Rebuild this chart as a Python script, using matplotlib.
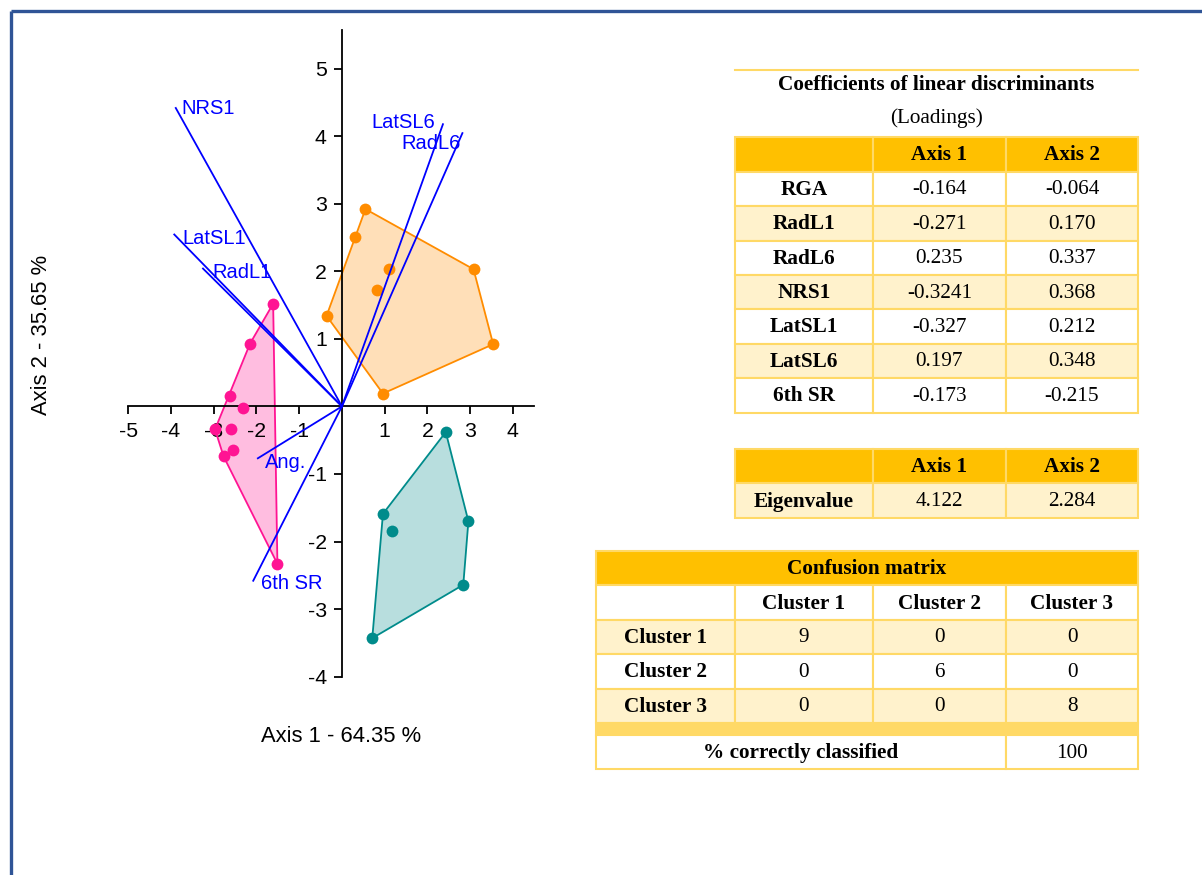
import numpy as np
import matplotlib.pyplot as plt
from matplotlib.patches import Rectangle, Polygon

plt.rcParams['font.family'] = ['Liberation Sans', 'DejaVu Sans']

# LDA scores for the three clusters (Axis 1, Axis 2)
cluster1_x = [-1.61, -2.15, -2.63, -2.31, -2.97, -2.59, -2.77, -2.55, -1.51]
cluster1_y = [1.52, 0.93, 0.15, -0.02, -0.34, -0.34, -0.74, -0.65, -2.33]
cluster2_x = [0.55, 0.31, 1.09, 0.82, 3.08, 3.54, -0.36, 0.96]
cluster2_y = [2.92, 2.50, 2.04, 1.72, 2.03, 0.92, 1.34, 0.19]
cluster3_x = [2.43, 0.96, 1.17, 2.96, 2.84, 0.71]
cluster3_y = [-0.38, -1.59, -1.84, -1.70, -2.64, -3.43]

# coefficients of linear discriminants
variables = ['RGA', 'RadL1', 'RadL6', 'NRS1', 'LatSL1', 'LatSL6', '6th SR']
vector_labels = ['Ang.', 'RadL1', 'RadL6', 'NRS1', 'LatSL1', 'LatSL6', '6th SR']
coef_axis1 = ['-0.164', '-0.271', '0.235', '-0.3241', '-0.327', '0.197', '-0.173']
coef_axis2 = ['-0.064', '0.170', '0.337', '0.368', '0.212', '0.348', '-0.215']
vector_scale = 12

eigen_axis1 = '4.122'
eigen_axis2 = '2.284'

clusters = ['Cluster 1', 'Cluster 2', 'Cluster 3']
confusion = [[9, 0, 0],
             [0, 6, 0],
             [0, 0, 8]]
pct_correct = '100'

PINK = '#FF1493'
ORANGE = '#FF8C00'
TEAL = '#008B8B'
BLUE = '#0000FF'
GOLD_FILL = '#FFC000'
GOLD_LINE = '#FFD966'
LIGHT = '#FFF2CC'
FRAME = '#2F5496'

# label offsets (pixels) from the tip of each vector
label_offsets = {
    'Ang.': (7, -4, 'left'),
    'RadL1': (9, -4, 'left'),
    'RadL6': (-2, -10, 'right'),
    'NRS1': (6, -1, 'left'),
    'LatSL1': (8, -4, 'left'),
    'LatSL6': (-8, 2, 'right'),
    '6th SR': (8, -3, 'left'),
}


def convex_hull(xs, ys):
    pts = sorted(set(zip(xs, ys)))

    def cross(o, a, b):
        return (a[0] - o[0]) * (b[1] - o[1]) - (a[1] - o[1]) * (b[0] - o[0])

    lower, upper = [], []
    for p in pts:
        while len(lower) >= 2 and cross(lower[-2], lower[-1], p) <= 0:
            lower.pop()
        lower.append(p)
    for p in reversed(pts):
        while len(upper) >= 2 and cross(upper[-2], upper[-1], p) <= 0:
            upper.pop()
        upper.append(p)
    return np.array(lower[:-1] + upper[:-1])


W, H = 1202, 875
fig = plt.figure(figsize=(W / 100, H / 100), dpi=100)

# ---- biplot ----
left_px, right_px, top_px, bottom_px = 128.3, 534.2, 30, 676.7
ax = fig.add_axes([left_px / W, 1 - bottom_px / H,
                   (right_px - left_px) / W, (bottom_px - top_px) / H])
ax.set_xlim(-5, 4.5)
ax.set_ylim(-4, 5.57)
ax.patch.set_visible(False)

for xs, ys, col in [(cluster1_x, cluster1_y, PINK),
                    (cluster2_x, cluster2_y, ORANGE),
                    (cluster3_x, cluster3_y, TEAL)]:
    hull = convex_hull(xs, ys)
    ax.add_patch(Polygon(hull, closed=True, facecolor=col, alpha=0.28,
                         edgecolor='none', zorder=1))
    ax.add_patch(Polygon(hull, closed=True, facecolor='none',
                         edgecolor=col, lw=1.3, zorder=2))
    ax.plot(xs, ys, 'o', color=col, ms=8.5, mec='none', zorder=6)

for lab, a1, a2 in zip(vector_labels, coef_axis1, coef_axis2):
    vx = float(a1) * vector_scale
    vy = float(a2) * vector_scale
    ax.plot([0, vx], [0, vy], color=BLUE, lw=1.3, zorder=7)
    dx, dy, ha = label_offsets[lab]
    ax.annotate(lab, (vx, vy), xytext=(dx * 0.72, dy * 0.72),
                textcoords='offset points', ha=ha, va='center',
                color=BLUE, fontsize=14.5, zorder=8)

for side in ['top', 'right']:
    ax.spines[side].set_visible(False)
ax.spines['left'].set_position(('data', 0))
ax.spines['bottom'].set_position(('data', 0))
for side in ['left', 'bottom']:
    ax.spines[side].set_linewidth(1.3)
    ax.spines[side].set_zorder(5)
ax.set_xticks([-5, -4, -3, -2, -1, 1, 2, 3, 4])
ax.set_yticks([-4, -3, -2, -1, 1, 2, 3, 4, 5])
ax.set_xticklabels(['-5', '-4', '-3', '-2', '-1', '1', '2', '3', '4'])
ax.set_yticklabels(['-4', '-3', '-2', '-1', '1', '2', '3', '4', '5'])
ax.tick_params(direction='out', length=6, width=1.3, labelsize=15.3, pad=5)

fig.text(341 / W, 1 - 737 / H, 'Axis 1 - 64.35 %', ha='center', va='center',
         fontsize=15.8)
fig.text(42 / W, 1 - 335 / H, 'Axis 2 - 35.65 %', ha='center', va='center',
         rotation=90, fontsize=15.8)

# ---- tables and frame, drawn in pixel coordinates ----
tx = fig.add_axes([0, 0, 1, 1], zorder=-1)
tx.set_xlim(0, W)
tx.set_ylim(H, 0)
tx.axis('off')

SERIF = ['Liberation Serif', 'DejaVu Serif']
TFS = 15.3


def cell(x0, x1, y0, y1, fill, text='', bold=False):
    tx.add_patch(Rectangle((x0, y0), x1 - x0, y1 - y0, facecolor=fill,
                           edgecolor=GOLD_LINE, lw=1.5))
    if text:
        tx.text((x0 + x1) / 2, (y0 + y1) / 2 + 1, text, ha='center',
                va='center', family=SERIF, fontsize=TFS,
                fontweight='bold' if bold else 'normal')


cols = [735, 873, 1006, 1138]

# coefficients table
tx.plot([cols[0], cols[-1]], [70, 70], color=GOLD_LINE, lw=1.5)
tx.text((cols[0] + cols[-1]) / 2, 85, 'Coefficients of linear discriminants',
        ha='center', va='center', family=SERIF, fontsize=TFS, fontweight='bold')
tx.text((cols[0] + cols[-1]) / 2, 118, '(Loadings)', ha='center', va='center',
        family=SERIF, fontsize=TFS)
row_top = 137.3
row_h = 34.4
for j, head in enumerate(['', 'Axis 1', 'Axis 2']):
    cell(cols[j], cols[j + 1], row_top, row_top + row_h, GOLD_FILL, head, True)
for i, (name, a1, a2) in enumerate(zip(variables, coef_axis1, coef_axis2)):
    y0 = row_top + (i + 1) * row_h
    fill = LIGHT if i % 2 == 1 else 'white'
    cell(cols[0], cols[1], y0, y0 + row_h, fill, name, True)
    cell(cols[1], cols[2], y0, y0 + row_h, fill, a1)
    cell(cols[2], cols[3], y0, y0 + row_h, fill, a2)

# eigenvalue table
e_top = 449
for j, head in enumerate(['', 'Axis 1', 'Axis 2']):
    cell(cols[j], cols[j + 1], e_top, e_top + row_h, GOLD_FILL, head, True)
cell(cols[0], cols[1], e_top + row_h, e_top + 2 * row_h, LIGHT, 'Eigenvalue', True)
cell(cols[1], cols[2], e_top + row_h, e_top + 2 * row_h, LIGHT, eigen_axis1)
cell(cols[2], cols[3], e_top + row_h, e_top + 2 * row_h, LIGHT, eigen_axis2)

# confusion matrix
ccols = [596, 734.5, 873, 1006, 1138]
c_top = 551
cell(ccols[0], ccols[-1], c_top, c_top + row_h, GOLD_FILL, 'Confusion matrix', True)
y0 = c_top + row_h
cell(ccols[0], ccols[1], y0, y0 + row_h, 'white')
for j, cl in enumerate(clusters):
    cell(ccols[j + 1], ccols[j + 2], y0, y0 + row_h, 'white', cl, True)
for i, cl in enumerate(clusters):
    y0 = c_top + (i + 2) * row_h
    fill = LIGHT if i % 2 == 0 else 'white'
    cell(ccols[0], ccols[1], y0, y0 + row_h, fill, cl, True)
    for j in range(3):
        cell(ccols[j + 1], ccols[j + 2], y0, y0 + row_h, fill, str(confusion[i][j]))
band_top = c_top + 5 * row_h
cell(ccols[0], ccols[-1], band_top, band_top + 12, GOLD_LINE)
last_top = band_top + 12
cell(ccols[0], ccols[3], last_top, last_top + row_h, 'white', '% correctly classified', True)
cell(ccols[3], ccols[4], last_top, last_top + row_h, 'white', pct_correct)

# frame
tx.plot([11, W], [11, 11], color=FRAME, lw=2.4, solid_capstyle='butt')
tx.plot([11, 11], [11, H], color=FRAME, lw=2.4, solid_capstyle='butt')

fig.savefig('out.png', dpi=100)
